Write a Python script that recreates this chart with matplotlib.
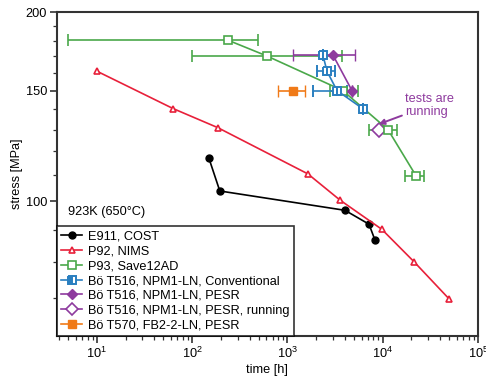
import matplotlib
matplotlib.use("Agg")
import matplotlib.pyplot as plt
from matplotlib.lines import Line2D
from matplotlib.ticker import LogLocator, FixedLocator, NullFormatter, LogFormatterMathtext

plt.rcParams['font.family'] = ['Liberation Sans', 'DejaVu Sans']
plt.rcParams['font.size'] = 9.2

# E911, COST
e911_t = [150, 195, 4020, 7180, 8320]
e911_s = [117, 103.8, 96.7, 91.9, 86.6]

# P92, NIMS
p92_t = [10, 63, 186, 1640, 3560, 9780, 21300, 49700]
p92_s = [161, 140.4, 130.9, 110.5, 100.4, 90.2, 80.1, 69.9]

# P93, Save12AD (with time scatter)
p93_t = [237, 610, 3800, 11350, 22400]
p93_s = [180.4, 170.2, 150, 130, 109.7]
p93_lo = [4.95, 99, 2790, 7180, 17100]
p93_hi = [490, 3730, 5500, 14100, 27100]

# Bo T516, NPM1-LN, Conventional
conv_t = [2360, 2600, 3310, 6150]
conv_s = [170.7, 161, 150, 140.4]
conv_lo = [2360, 2040, 1850, 6150]
conv_hi = [2360, 3150, 4220, 6150]

# Bo T516, NPM1-LN, PESR
pesr_t = [3010, 4750]
pesr_s = [170.7, 150]
pesr_lo = [1140, 4750]
pesr_hi = [5140, 4750]

# Bo T516, NPM1-LN, PESR, running
run_t = [9100]
run_s = [130]

# Bo T570, FB2-2-LN, PESR
t570_t = [1143]
t570_s = [150]
t570_lo = [795]
t570_hi = [1530]

labels = ['E911, COST', 'P92, NIMS', 'P93, Save12AD', 'Bö T516, NPM1-LN, Conventional',
          'Bö T516, NPM1-LN, PESR', 'Bö T516, NPM1-LN, PESR, running',
          'Bö T570, FB2-2-LN, PESR']

c_red = '#e8203a'
c_green = '#4aa84a'
c_blue = '#2a7fc0'
c_purple = '#8e3a9e'
c_orange = '#f07a18'


def xerr(t, lo, hi):
    return [[a - b for a, b in zip(t, lo)], [b - a for a, b in zip(t, hi)]]


fig = plt.figure(figsize=(4.86, 3.81), dpi=100)
ax = fig.add_axes([0.117, 0.118, 0.8665, 0.8505])

ax.plot(e911_t, e911_s, 'o-', color='black', ms=5, lw=1.2)
ax.plot(p92_t, p92_s, '^-', color=c_red, mfc='white', ms=5, lw=1.2, mew=1.2)
ax.errorbar(p93_t, p93_s, xerr=xerr(p93_t, p93_lo, p93_hi), fmt='s-', color=c_green,
            mfc='white', ms=6, lw=1.2, mew=1.2, capsize=4, elinewidth=1.2)
ax.errorbar(conv_t, conv_s, xerr=xerr(conv_t, conv_lo, conv_hi), fmt='s-', color=c_blue,
            mfc='white', fillstyle='left', markerfacecoloralt='white', ms=6, lw=1.2,
            mew=1.4, capsize=4, elinewidth=1.2)
ax.errorbar(pesr_t, pesr_s, xerr=xerr(pesr_t, pesr_lo, pesr_hi), fmt='D-', color=c_purple,
            ms=5, lw=1.2, capsize=4, elinewidth=1.2)
ax.plot(run_t, run_s, 'D', color=c_purple, mfc='white', ms=7, mew=1.2)
ax.errorbar(t570_t, t570_s, xerr=xerr(t570_t, t570_lo, t570_hi), fmt='s', color=c_orange,
            mfc=c_orange, ms=6, capsize=4, elinewidth=1.2, lw=1.2)

ax.set_xscale('log')
ax.set_yscale('log')
ax.set_xlim(3.8, 1e5)
ax.set_ylim(61, 200)

ax.xaxis.set_major_locator(LogLocator(base=10, numticks=10))
ax.xaxis.set_major_formatter(LogFormatterMathtext())
ax.xaxis.set_minor_locator(LogLocator(base=10, subs=range(2, 10), numticks=20))
ax.xaxis.set_minor_formatter(NullFormatter())
ax.yaxis.set_major_locator(FixedLocator([100, 150, 200]))
ax.yaxis.set_major_formatter(plt.FuncFormatter(lambda v, p: '%d' % v))
ax.yaxis.set_minor_locator(FixedLocator([70, 80, 90, 110, 120, 130, 140, 160, 170, 180, 190]))
ax.yaxis.set_minor_formatter(NullFormatter())

ax.tick_params(which='major', direction='out', length=5, width=1.2, color='#333333', pad=2)
ax.tick_params(which='minor', direction='out', length=3, width=0.9, color='#333333')
for sp in ax.spines.values():
    sp.set_linewidth(1.5)
    sp.set_color('#333333')

ax.set_xlabel('time [h]', labelpad=2)
ax.set_ylabel('stress [MPa]', labelpad=2)

ax.text(0.026, 0.383, '923K (650°C)', transform=ax.transAxes, va='center', ha='left')

ax.annotate('tests are\nrunning', xy=(run_t[0], run_s[0] * 1.02), xytext=(17000, 142),
            color=c_purple, ha='left', va='center',
            arrowprops=dict(arrowstyle='-|>', color=c_purple, lw=1.4, shrinkA=0, shrinkB=0,
                            mutation_scale=8))

handles = [
    Line2D([], [], marker='o', color='black', ms=5, lw=1.2),
    Line2D([], [], marker='^', color=c_red, mfc='white', ms=5, lw=1.2, mew=1.2),
    Line2D([], [], marker='s', color=c_green, mfc='white', ms=6, lw=1.2, mew=1.2),
    Line2D([], [], marker='s', color=c_blue, fillstyle='left', markerfacecoloralt='white',
           ms=6, lw=1.2, mew=1.4),
    Line2D([], [], marker='D', color=c_purple, ms=5, lw=1.2),
    Line2D([], [], marker='D', color=c_purple, mfc='white', ms=6, lw=1.2, mew=1.2),
    Line2D([], [], marker='s', color=c_orange, ms=6, lw=1.2),
]
leg = ax.legend(handles, labels, loc='lower left', borderaxespad=0, frameon=True,
                fancybox=False, edgecolor='black', handlelength=1.6, handletextpad=0.5,
                labelspacing=0.22, borderpad=0.35)
leg.get_frame().set_linewidth(1.2)

fig.savefig('out.png', dpi=100)
